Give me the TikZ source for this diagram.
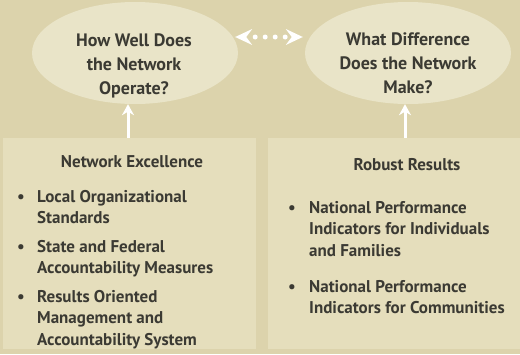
\documentclass[tikz,border=0pt]{standalone}
\usepackage{fontspec}
\setmainfont{PT Sans}
\usetikzlibrary{arrows.meta, positioning, shapes.geometric}

\definecolor{backtan}{HTML}{DCD3AC}
\definecolor{boxtan}{HTML}{E5DEBC}
\definecolor{ovaltan}{HTML}{E9E4C8}
\definecolor{inkdark}{HTML}{3B3A33}

\tikzset{
  question/.style={ellipse, fill=ovaltan, minimum width=206pt, minimum height=102pt, inner sep=0pt},
  asktext/.style={align=center, font=\fontsize{18}{24}\selectfont\bfseries, text=inkdark},
  panel/.style={rectangle, fill=boxtan, inner sep=0pt, anchor=north west},
  heading/.style={anchor=base, font=\fontsize{17}{21}\selectfont\bfseries, text=inkdark},
  entry/.style={anchor=north west, align=left, inner sep=0pt, font=\fontsize{17}{21.5}\selectfont\bfseries, text=inkdark},
  dot/.style={anchor=base, inner sep=0pt, font=\fontsize{17}{21}\selectfont\bfseries, text=inkdark},
  uparrow/.style={draw=white, line width=3pt, -{Stealth[length=11pt, width=12pt]}},
  linktip/.style={fill=white},
}

\begin{document}
\begin{tikzpicture}[x=1pt, y=-1pt]
			% Background
			\fill[backtan] (0,0) rectangle (520,354);
			\useasboundingbox (0,0) rectangle (520,354);

			% The two questions
			\node[question] (operate) at (135,53) {};
			\node[question] (difference) at (408,53) {};
			\node[asktext] (operatetext) at (134,66) {How Well Does\\the Network\\Operate?};
			\node[asktext] (differencetext) at (408,63) {What Difference\\Does the Network\\Make?};

			% The two panels
			\node[panel, minimum width=253pt, minimum height=211pt] (excellence) at (3,138) {};
			\node[panel, minimum width=252pt, minimum height=211pt] (results) at (268,138) {};

			% Left panel text
			\node[heading] (exctitle) at (132,167) {Network Excellence};
			\node[dot] (excdot1) at (21,202) {\textbullet};
			\node[entry] (excitem1) at (37,202-12) {Local Organizational\\Standards};
			\node[dot] (excdot2) at (21,252) {\textbullet};
			\node[entry] (excitem2) at (37,252-12) {State and Federal\\Accountability Measures};
			\node[dot] (excdot3) at (21,302) {\textbullet};
			\node[entry] (excitem3) at (37,302-12) {Results Oriented\\Management and\\Accountability System};

			% Right panel text
			\node[heading] (restitle) at (407,170) {Robust Results};
			\node[dot] (resdot1) at (292,213) {\textbullet};
			\node[entry] (resitem1) at (309,213-12) {National Performance\\Indicators for Individuals\\and Families};
			\node[dot] (resdot2) at (292,292) {\textbullet};
			\node[entry] (resitem2) at (309,292-12) {National Performance\\Indicators for Communities};

			% Arrows from the panels up to the questions
			\draw[uparrow] (excellence.north -| 128,0) -- (operate.south -| 128,0);
			\draw[uparrow] (results.north -| 405,0) -- (difference.south -| 405,0);

			% Dotted double arrow between the questions
			\coordinate (linkleft) at ([shift={(-3,-16)}]operate.east);
			\coordinate (linkright) at ([shift={(-2,-16)}]difference.west);
			\draw[white, line width=5pt, line cap=round, dash pattern=on 0pt off 10pt]
			      ([xshift=20pt]linkleft) -- ([xshift=-16pt]linkright);
			\fill[linktip] (linkleft) -- ++(17,-8) -- ++(-6,8) -- ++(6,8) -- cycle;
			\fill[linktip] (linkright) -- ++(-17,-8) -- ++(6,8) -- ++(-6,8) -- cycle;
		\end{tikzpicture}
\end{document}
